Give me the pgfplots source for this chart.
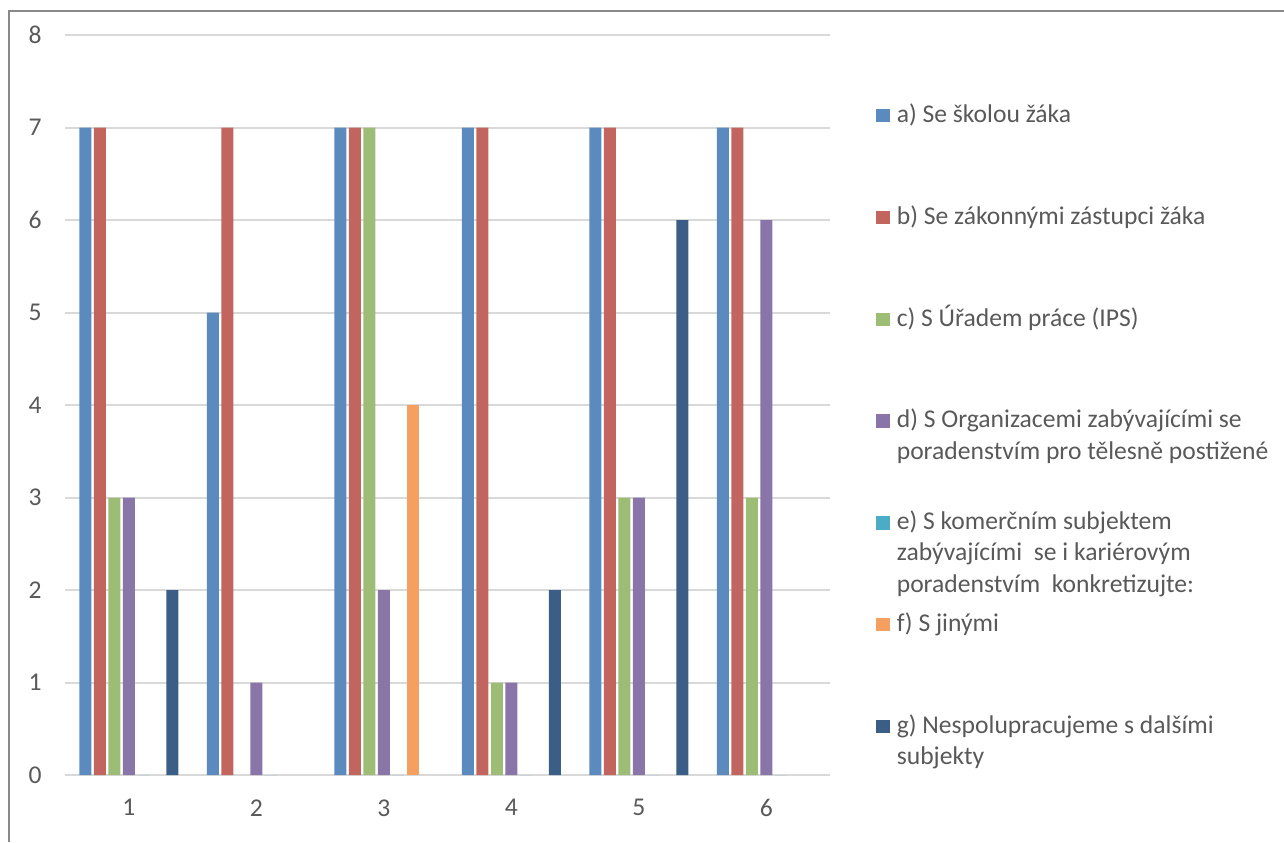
\documentclass[border=0pt]{standalone}
\usepackage{pgfplots}
\usepackage{pgfplotstable}
\pgfplotsset{compat=1.18}
\usepackage{fontspec}
\setmainfont{Carlito}
\definecolor{ca}{HTML}{5B8BBE}
\definecolor{cb}{HTML}{C3655F}
\definecolor{cc}{HTML}{9DBD77}
\definecolor{cd}{HTML}{8A75A9}
\definecolor{ce}{HTML}{4BACC6}
\definecolor{cf}{HTML}{F5A061}
\definecolor{cg}{HTML}{3A5E86}
\definecolor{txt}{HTML}{595959}
\definecolor{gridc}{HTML}{D9D9D9}
\definecolor{framec}{HTML}{898989}
\pgfplotstableread{
x a b c d e f g
1 7 7 3 3 0 0 2
2 5 7 0 1 0 0 0
3 7 7 7 2 0 4 0
4 7 7 1 1 0 0 2
5 7 7 3 3 0 0 6
6 7 7 3 6 0 0 0
}\datatable
\newcommand{\ent}[1]{\parbox[t]{200pt}{\raggedright #1}}
\begin{document}
\begin{tikzpicture}
\useasboundingbox (0,0) rectangle (642pt,421pt);
\draw[framec, line width=0.75pt] (4.5pt,0pt) -- (4.5pt,415.5pt) -- (642pt,415.5pt);
\begin{axis}[
  at={(32.5pt,33.5pt)}, anchor=south west,
  scale only axis, width=382.5pt, height=370pt,
  xmin=0.5, xmax=6.5, ymin=0, ymax=8,
  xtick={1,...,6}, ytick={0,...,8},
  axis line style={draw=none},
  major tick length=0pt,
  ymajorgrids, grid style={gridc, line width=1pt},
  ybar=1.25pt, bar width=6pt,
  font=\fontsize{12.8pt}{15.6pt}\selectfont,
  /pgf/number format/assume math mode=true,
  ticklabel style={text=txt, font=\fontsize{12.8pt}{15.6pt}\selectfont},
  yticklabel style={anchor=east, inner sep=0pt, xshift=-11.5pt},
  xticklabel style={anchor=north, inner sep=0pt, yshift=-12pt},
  legend image code/.code={\fill[#1] (0pt,0pt) rectangle (6.7pt,6.7pt);},
  legend style={at={(axis description cs:0,0)}, anchor=north west,
    xshift=405.5pt, yshift=336.5pt, draw=none, fill=none,
    inner sep=0pt, row sep=0pt, column sep=3.5pt,
    cells={anchor=base west},
    nodes={inner sep=0pt, text=txt, text height=10pt, text depth=40.9pt,
      font=\fontsize{12.8pt}{15.6pt}\selectfont}},
  nz/.style={y filter/.expression={y==0 ? nan : y}},
]
\addplot[fill=ca, draw=none, nz] table[x=x, y=a] {\datatable};
\addlegendentry{\ent{a) Se školou žáka}}
\addplot[fill=cb, draw=none, nz] table[x=x, y=b] {\datatable};
\addlegendentry{\ent{b) Se zákonnými zástupci žáka}}
\addplot[fill=cc, draw=none, nz] table[x=x, y=c] {\datatable};
\addlegendentry{\ent{c) S Úřadem práce (IPS)}}
\addplot[fill=cd, draw=none, nz] table[x=x, y=d] {\datatable};
\addlegendentry{\ent{d) S Organizacemi zabývajícími se\\poradenstvím pro tělesně postižené}}
\addplot[fill=ce, draw=none] table[x=x, y=e] {\datatable};
\addlegendentry{\ent{e) S komerčním subjektem\\zabývajícími\ \ se i kariérovým\\poradenstvím\ \ konkretizujte:}}
\addplot[fill=cf, draw=none, nz] table[x=x, y=f] {\datatable};
\addlegendentry{\ent{f) S jinými}}
\addplot[fill=cg, draw=none, nz] table[x=x, y=g] {\datatable};
\addlegendentry{\ent{g) Nespolupracujeme s dalšími\\subjekty}}
\end{axis}
\end{tikzpicture}
\end{document}
